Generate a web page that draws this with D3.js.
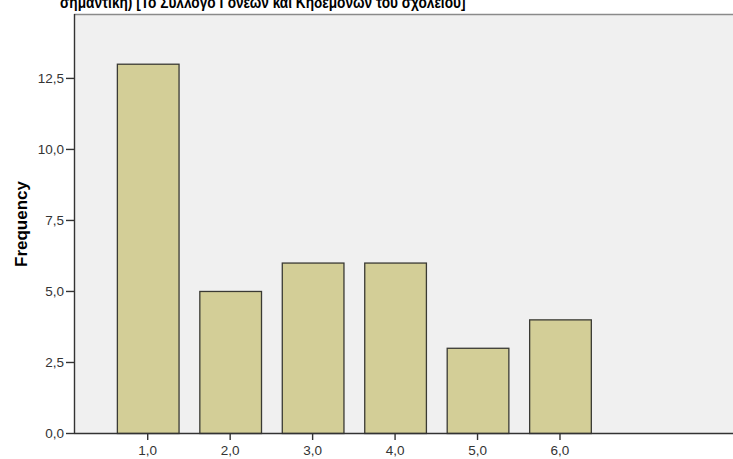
<!DOCTYPE html>
<html>
<head>
<meta charset="utf-8">
<script src="https://cdn.jsdelivr.net/npm/d3@7"></script>
<style>
  html, body { margin: 0; padding: 0; background: #ffffff; }
  svg { display: block; }
</style>
</head>
<body>
<svg id="chart" width="733" height="459"></svg>
<script>
// Response categories and their frequencies
const categories = ["1,0", "2,0", "3,0", "4,0", "5,0", "6,0"];
const frequencies = [13, 5, 6, 6, 3, 4];
const yTicks = [0, 2.5, 5, 7.5, 10, 12.5];
const titleText = "σημαντική) [Το Σύλλογο Γονέων και Κηδεμόνων του σχολείου]";
const yLabel = "Frequency";

const svg = d3.select("#chart");
const plot = { left: 74, top: 14, right: 745, bottom: 433 };

const x = d3.scaleBand()
  .domain(categories)
  .range([plot.left, 633.7])
  .paddingInner(0.252)
  .paddingOuter(0.52);

const y = d3.scaleLinear()
  .domain([0, 14.75])
  .range([plot.bottom, plot.top]);

// plot background
svg.append("rect")
  .attr("x", plot.left).attr("y", plot.top)
  .attr("width", plot.right - plot.left).attr("height", plot.bottom - plot.top)
  .attr("fill", "#f0f0f0");

// top frame line
svg.append("line")
  .attr("x1", plot.left).attr("x2", plot.right)
  .attr("y1", plot.top + 0.5).attr("y2", plot.top + 0.5)
  .attr("stroke", "#8a8a8a").attr("stroke-width", 1.5);

// bars
svg.append("g").selectAll("rect")
  .data(frequencies)
  .join("rect")
  .attr("x", (d, i) => x(categories[i]) + 0.5)
  .attr("y", d => y(d) + 0.5)
  .attr("width", x.bandwidth())
  .attr("height", d => y(0) - y(d))
  .attr("fill", "#d3ce97")
  .attr("stroke", "#3a3a34")
  .attr("stroke-width", 1.3);

const font = "'Liberation Sans', Arial, sans-serif";

// y axis
const yAxis = svg.append("g")
  .attr("transform", `translate(${plot.left},0)`)
  .call(d3.axisLeft(y).tickValues(yTicks).tickSize(8).tickPadding(2)
    .tickFormat(d => d3.format(".1f")(d).replace(".", ",")));

// x axis
const xAxis = svg.append("g")
  .attr("transform", `translate(0,${plot.bottom})`)
  .call(d3.axisBottom(x).tickSize(7).tickPadding(5));

[yAxis, xAxis].forEach(g => {
  g.select(".domain").attr("stroke", "#333").attr("stroke-width", 1.4);
  g.selectAll(".tick line").attr("stroke", "#333").attr("stroke-width", 1.4);
  g.selectAll(".tick text")
    .attr("fill", "#333")
    .style("font-family", font)
    .style("font-size", "13.5px");
});
xAxis.select(".domain").attr("d", `M${plot.left},0.5H${plot.right}`);
yAxis.select(".domain").attr("d", `M0.5,${plot.bottom}V${plot.top}`);

// y axis label
svg.append("text")
  .attr("transform", "translate(27,224) rotate(-90)")
  .attr("text-anchor", "middle")
  .style("font-family", font)
  .style("font-weight", "bold")
  .style("font-size", "17px")
  .attr("fill", "#000")
  .text(yLabel);

// title: tall condensed bold text whose upper part runs off the top edge,
// squeezed horizontally to span x = 60..466
const title = svg.append("text")
  .attr("x", 0)
  .attr("y", 0)
  .attr("text-anchor", "start")
  .style("font-family", font)
  .style("font-weight", "bold")
  .style("font-size", "17px")
  .attr("fill", "#000")
  .text(titleText);
const measured = title.node().getComputedTextLength();
title.attr("transform", `translate(60,8) scale(${(406 / measured).toFixed(4)},1)`);
</script>
</body>
</html>
